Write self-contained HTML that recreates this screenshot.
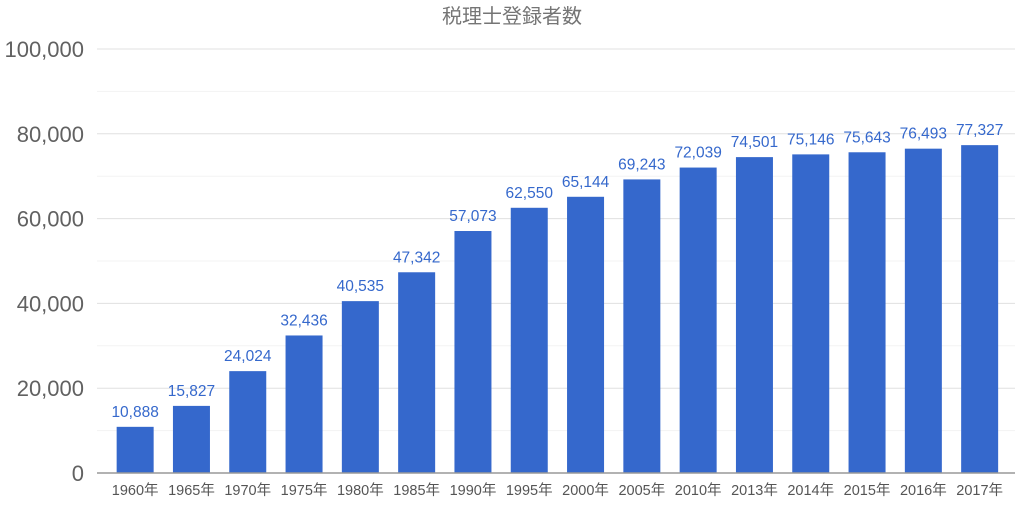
<!DOCTYPE html>
<html><head><meta charset="utf-8"><style>
body{margin:0;background:#fff;width:1024px;height:500px;overflow:hidden;font-family:"Liberation Sans","Noto Sans CJK JP",sans-serif}
</style></head><body>
<svg id="c" width="1024" height="500" xmlns="http://www.w3.org/2000/svg">
<text x="512" y="23" text-anchor="middle" font-size="20" fill="#757575" font-family="Liberation Sans, Noto Sans CJK JP, sans-serif">税理士登録者数</text>
</svg>
<script>
const categories=["1960年","1965年","1970年","1975年","1980年","1985年","1990年","1995年","2000年","2005年","2010年","2013年","2014年","2015年","2016年","2017年"];
const values=[10888,15827,24024,32436,40535,47342,57073,62550,65144,69243,72039,74501,75146,75643,76493,77327];
const yTicks=[0,20000,40000,60000,80000,100000];
const minorTicks=[10000,30000,50000,70000,90000];
const svg=document.getElementById('c');
const NS='http://www.w3.org/2000/svg';
const y0=473,yTop=49,yMax=100000,xL=97,xR=1015,bx0=107,bw=56.3,barW=37;
const y=v=>y0-(v/yMax)*(y0-yTop);
const x=i=>bx0+bw*i+bw/2;
function mk(t,a){const e=document.createElementNS(NS,t);for(const k in a)e.setAttribute(k,a[k]);svg.appendChild(e);return e;}
minorTicks.forEach(v=>{const l=mk('line',{x1:xL,x2:xR,y1:y(v),y2:y(v),stroke:'#f3f3f3','stroke-width':1});

});
yTicks.forEach(v=>{if(v>0){const l=mk('line',{x1:xL,x2:xR,y1:y(v),y2:y(v),stroke:'#e0e0e0','stroke-width':1});

}
const t=mk('text',{x:84,y:y(v)+8,'text-anchor':'end','font-size':22,fill:'#616161'});
t.textContent=v.toLocaleString('en-US');

});
values.forEach((v,i)=>{const r=mk('rect',{x:x(i)-barW/2,y:y(v),width:barW,height:y0-y(v),fill:'#3568cc'});


const t=mk('text',{x:x(i),y:y(v)-10,'text-anchor':'middle','font-size':15.5,fill:'#3568cc'});
t.textContent=v.toLocaleString('en-US');


const c=mk('text',{x:x(i),y:495,'text-anchor':'middle','font-size':14.5,fill:'#555'});
c.textContent=categories[i];

});
const ax=mk('line',{x1:xL,x2:xR,y1:y0,y2:y0,stroke:'#999','stroke-width':1.5});


</script>
</body></html>
